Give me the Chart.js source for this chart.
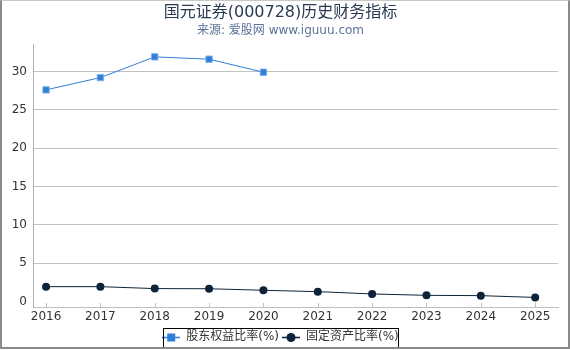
<!DOCTYPE html>
<html>
<head>
<meta charset="utf-8">
<script src="https://cdn.jsdelivr.net/npm/chart.js@4.4.0/dist/chart.umd.min.js"></script>
<style>
  html, body { margin: 0; padding: 0; background: #fff; }
  #wrap { position: relative; width: 566px; height: 346px; overflow: hidden; border: 2px solid #8a8a8a; border-top: 1px solid #c8c8c8; }
  #chart { display: block; }
</style>
</head>
<body>
<div id="wrap"><canvas id="chart" width="566" height="352"></canvas></div>
<script>
// data
const years = [2016, 2017, 2018, 2019, 2020, 2021, 2022, 2023, 2024, 2025];
const equityRatio = [27.6, 29.2, 31.9, 31.6, 29.9];          // 股东权益比率(%), 2016-2020
const fixedAssetRatio = [1.95, 1.95, 1.7, 1.68, 1.48, 1.3, 1.0, 0.82, 0.78, 0.55]; // 固定资产比率(%)
const yTicks = [0, 5, 10, 15, 20, 25, 30];

const blue = '#2f7ed8';
const navy = '#0d233a';
const font = "'DejaVu Sans', 'Noto Sans CJK SC', sans-serif";

// small legend icon: a line with the marker on it
function legendIcon(color, shape) {
  const c = document.createElement('canvas');
  c.width = 18; c.height = 10;
  const g = c.getContext('2d');
  g.strokeStyle = color; g.lineWidth = 1.5;
  g.beginPath(); g.moveTo(0, 5.5); g.lineTo(18, 5.5); g.stroke();
  g.fillStyle = color;
  if (shape === 'rect') {
    g.fillRect(5, 1.5, 8, 8);
  } else {
    g.beginPath(); g.arc(9, 5.5, 4.5, 0, Math.PI * 2); g.fill();
  }
  return c;
}
const icons = [legendIcon(blue, 'rect'), legendIcon(navy, 'circle')];

// border around the legend box + short inward ticks on the x axis
const extras = {
  id: 'extras',
  afterDraw(chart) {
    const l = chart.legend;
    const ctx = chart.ctx;
    ctx.save();
    ctx.strokeStyle = '#000';
    ctx.lineWidth = 1;
    const w = 235;
    const x = Math.round((l.left + l.right) / 2 - w / 2) + 0.5;
    ctx.strokeRect(x, Math.round(l.top) + 0.5, w, 21);

    const xs = chart.scales.x;
    ctx.strokeStyle = '#c0c0c0';
    ctx.beginPath();
    xs.ticks.forEach(t => {
      const px = Math.round(xs.getPixelForValue(t.value)) + 0.5;
      ctx.moveTo(px, xs.top);
      ctx.lineTo(px, xs.top - 4);
    });
    ctx.stroke();
    ctx.restore();
  }
};

new Chart(document.getElementById('chart'), {
  type: 'line',
  data: {
    datasets: [{
      label: '股东权益比率(%)',
      data: equityRatio.map((v, i) => ({ x: years[i], y: v })),
      borderColor: blue,
      backgroundColor: blue,
      borderWidth: 1,
      pointStyle: 'rect',
      pointRadius: 4.5,
      pointBorderColor: '#7fb1ea',
      pointBorderWidth: 1
    }, {
      label: '固定资产比率(%)',
      data: fixedAssetRatio.map((v, i) => ({ x: years[i], y: v })),
      borderColor: navy,
      backgroundColor: navy,
      borderWidth: 1,
      pointStyle: 'circle',
      pointRadius: 4,
      pointBorderWidth: 0
    }]
  },
  options: {
    responsive: false,
    animation: false,
    layout: { padding: { left: 1, right: 10, top: 2, bottom: 0 } },
    scales: {
      x: {
        type: 'linear',
        min: 2015.76,
        max: 2025.42,
        afterBuildTicks: s => { s.ticks = years.map(v => ({ value: v })); },
        afterFit: s => { s.height = 21; },
        ticks: { color: '#333', font: { family: font, size: 12 }, padding: 3, callback: v => String(v) },
        grid: { display: false, drawTicks: false },
        border: { color: '#c0c0c0', width: 1 }
      },
      y: {
        min: -0.7,
        max: 33.5,
        afterBuildTicks: s => { s.ticks = yTicks.map(v => ({ value: v })); },
        afterFit: s => { s.width = 30; },
        ticks: { color: '#333', font: { family: font, size: 12 }, padding: 6 },
        grid: {
          color: ctx => ctx.tick && ctx.tick.value === 0 ? 'rgba(0,0,0,0)' : '#c0c0c0',
          drawTicks: false
        },
        border: { color: '#b0b0b0', width: 1 }
      }
    },
    plugins: {
      title: {
        display: true,
        text: '国元证券(000728)历史财务指标',
        color: '#2a3a55',
        font: { family: font, size: 16, weight: 'normal' },
        padding: { top: 0, bottom: 0 }
      },
      subtitle: {
        display: true,
        text: '来源: 爱股网 www.iguuu.com',
        color: '#5a7396',
        font: { family: font, size: 12 },
        padding: { top: 1, bottom: 7 }
      },
      legend: {
        position: 'bottom',
        labels: {
          color: '#333',
          font: { family: font, size: 12 },
          usePointStyle: true,
          pointStyleWidth: 18,
          padding: 3,
          generateLabels: chart => chart.data.datasets.map((d, i) => ({
            text: d.label,
            pointStyle: icons[i],
            datasetIndex: i,
            fontColor: '#333',
            lineWidth: 0,
            strokeStyle: 'transparent'
          }))
        }
      },
      tooltip: { enabled: false }
    }
  },
  plugins: [extras]
});
</script>
</body>
</html>
